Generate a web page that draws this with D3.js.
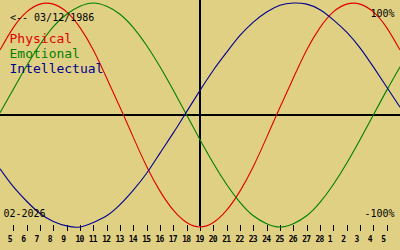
<!DOCTYPE html>
<html>
<head>
<meta charset="utf-8">
<script src="https://cdn.jsdelivr.net/npm/d3@7/dist/d3.min.js"></script>
<style>
html,body{margin:0;padding:0;background:#e0d084;}
svg{display:block;}
text{font-family:"DejaVu Sans Mono",monospace;}
</style>
</head>
<body>
<svg id="chart" width="400" height="250"></svg>
<script>
// Sample dates: Feb 4 2026 .. Mar 6 2026 (31 points), tick labels shown for Feb 5 .. Mar 5
const sampleDays = ["4","5","6","7","8","9","10","11","12","13","14","15","16","17","18","19","20","21","22","23","24","25","26","27","28","1","2","3","4","5","6"];
const tickLabels = ["5","6","7","8","9","10","11","12","13","14","15","16","17","18","19","20","21","22","23","24","25","26","27","28","1","2","3","4","5"];
const physical = [58,78,92,99,99,92,78,58,33,7,-20,-46,-68,-85,-96,-100,-96,-85,-68,-46,-20,7,33,58,78,92,99,99,92,78,58];
const emotional = [2,23,44,63,79,90,97,100,97,90,78,62,43,22,0,-22,-43,-62,-78,-90,-97,-100,-97,-90,-78,-62,-43,-22,0,22,43];
const intellectual = [-48,-64,-77,-88,-95,-99,-100,-96,-90,-80,-67,-52,-34,-16,3,22,40,56,71,83,92,98,100,99,94,85,74,60,43,25,7];
const seriesNames = ["Physical","Emotional","Intellectual"];
const seriesColors = ["#e00000","#008000","#000090"];
const birthLabel = "<-- 03/12/1986";
const monthLabel = "02-2026";
const topLabel = "100%";
const bottomLabel = "-100%";

const W = 400, H = 250;
const svg = d3.select("#chart");
svg.append("rect").attr("width", W).attr("height", H).attr("fill", "#e0d084");

const x = d3.scaleLinear().domain([0, sampleDays.length - 1]).range([0, W]);
const y = d3.scaleLinear().domain([-100, 100]).range([227, 3]);

// axes lines
svg.append("line").attr("x1", 0).attr("x2", W).attr("y1", y(0)).attr("y2", y(0))
  .attr("stroke", "#000").attr("stroke-width", 1.5).attr("shape-rendering", "crispEdges");
svg.append("line").attr("x1", x(15)).attr("x2", x(15)).attr("y1", 0).attr("y2", 226)
  .attr("stroke", "#000").attr("stroke-width", 1.5).attr("shape-rendering", "crispEdges");

// day ticks
const tickIdx = tickLabels.map((d, i) => i + 1);
const ticks = svg.append("g");
ticks.selectAll("line").data(tickIdx).join("line")
  .attr("x1", d => Math.round(x(d)) + 0.5).attr("x2", d => Math.round(x(d)) + 0.5)
  .attr("y1", 225).attr("y2", 231)
  .attr("stroke", "#000").attr("stroke-width", 1).attr("shape-rendering", "crispEdges");
ticks.selectAll("text").data(tickIdx).join("text")
  .attr("x", d => x(d) - (tickLabels[d - 1].length === 1 ? 5.5 : 4.5))
  .attr("y", 241.5)
  .attr("font-size", 8).attr("font-weight", "bold").attr("letter-spacing", -0.8).attr("fill", "#000")
  .text(d => tickLabels[d - 1]);

// curves
const all = [physical, emotional, intellectual];
const line = d3.line().x((d, i) => x(i)).y(d => y(d)).curve(d3.curveNatural);
svg.append("g").selectAll("path").data(all).join("path")
  .attr("d", d => line(d))
  .attr("fill", "none")
  .attr("stroke", (d, i) => seriesColors[i])
  .attr("stroke-width", 1.1);

// texts
svg.append("text").attr("x", 10).attr("y", 21).attr("font-size", 10).attr("fill", "#000").text(birthLabel);
svg.append("g").selectAll("text").data(seriesNames).join("text")
  .attr("x", 9.5).attr("y", (d, i) => [42.5, 57.5, 73][i])
  .attr("font-size", 13).attr("fill", (d, i) => seriesColors[i])
  .text(d => d);
svg.append("text").attr("x", 394.5).attr("y", 16.7).attr("text-anchor", "end").attr("font-size", 10).attr("fill", "#000").text(topLabel);
svg.append("text").attr("x", 394.5).attr("y", 216.7).attr("text-anchor", "end").attr("font-size", 10).attr("fill", "#000").text(bottomLabel);
svg.append("text").attr("x", 3.5).attr("y", 216.7).attr("font-size", 10).attr("fill", "#000").text(monthLabel);
</script>
</body>
</html>
